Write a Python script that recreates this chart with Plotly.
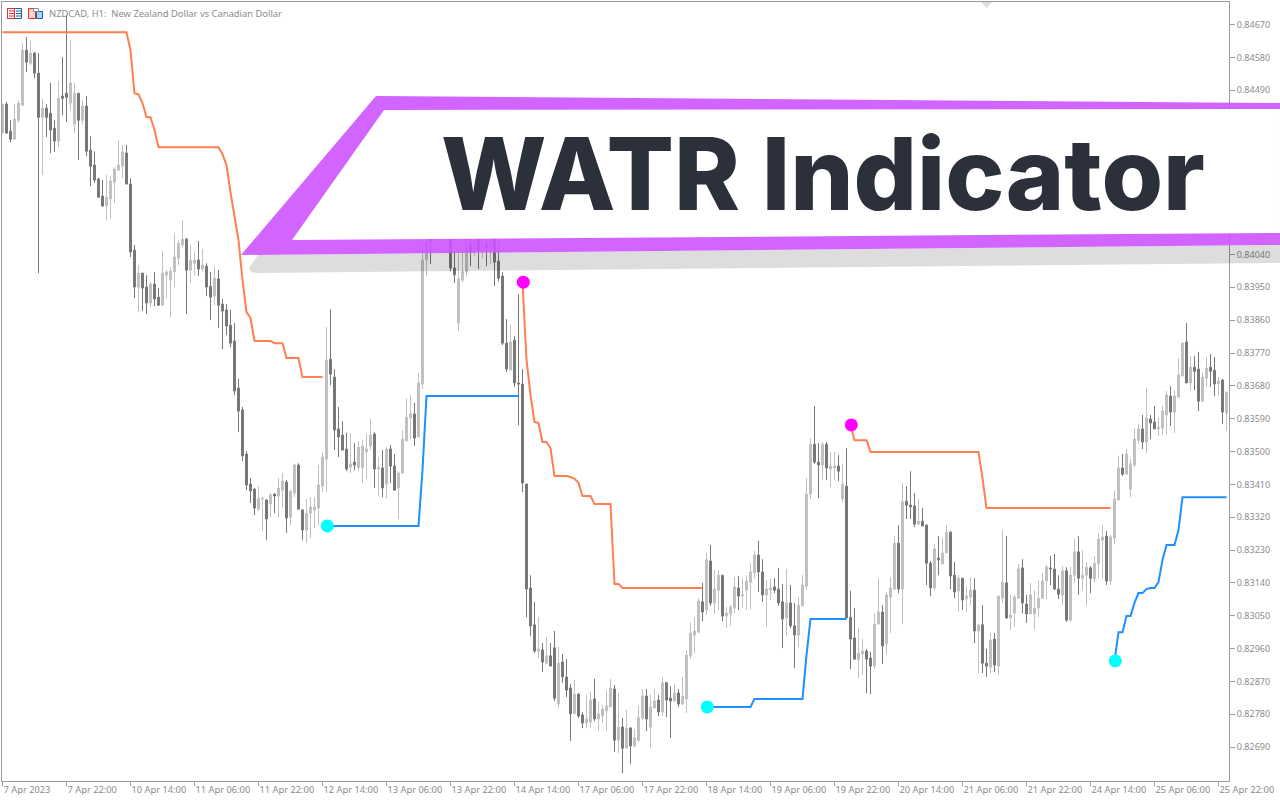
import plotly.graph_objects as go

# prices are stored in points (1 point = 0.00001)
highs_pts = [
84452,84458,84408,84452,84463,84619,84636,84625,84595,84592,
84466,84452,84510,84408,84515,84581,84696,84627,84510,84482,
84463,84474,84364,84323,84249,84244,84258,84255,84279,84353,
84340,84340,84249,84066,84011,83989,83983,83964,83992,83948,
84049,83997,84005,84096,84079,84134,84085,84066,84049,84077,
84055,84016,83992,84008,83997,83918,83904,83888,83852,83699,
83622,83501,83427,83400,83405,83375,83370,83386,83386,83427,
83441,83422,83394,83466,83468,83342,83370,83375,83375,83463,
83499,83841,83890,83726,83622,83583,83551,83551,83523,83529,
83531,83548,83589,83553,83485,83504,83512,83518,83493,83444,
83559,83646,83655,83633,83715,84063,84093,84090,84120,84129,
84118,84112,84101,84047,84047,84047,84085,84085,84085,84085,
84085,84085,84085,84082,84074,83992,83863,83846,83816,83931,
83726,83411,83161,83088,83046,82975,82992,82975,83008,82964,
82945,82931,82863,82874,82838,82786,82833,82841,82877,82814,
82805,82846,82877,82860,82838,82770,82792,82745,82740,82803,
82849,82849,82833,82849,82833,82882,82868,82857,82863,82849,
82882,82956,83030,83046,83098,83140,83222,83244,83175,83175,
83161,83074,83079,83156,83159,83153,83161,83194,83227,83255,
83205,83148,83151,83153,83181,83137,83178,83134,83085,83101,
83161,83427,83537,83625,83523,83526,83526,83499,83499,83490,
83466,83509,83118,83071,83016,82986,82959,82951,83057,83153,
83079,83115,83156,83268,83298,83414,83405,83446,83386,83370,
83345,83301,83200,83246,83268,83263,83298,83282,83197,83161,
83153,83131,83156,83153,83027,83079,82959,83003,83003,83104,
83285,83268,83107,83107,83192,83205,83107,83140,83120,83148,
83167,83189,83214,83219,83161,83186,83183,83183,83260,83268,
83230,83197,83186,83214,83277,83298,83282,83271,83392,83488,
83493,83507,83479,83564,83575,83600,83674,83600,83625,83594,
83625,83666,83679,83668,83756,83800,83852,83762,83762,83773,
83718,83759,83767,83759,83704,83699,83663]

lows_pts = [
84373,84370,84348,84356,84403,84447,84540,84559,84523,83989,
84258,84362,84318,84321,84334,84422,84403,84436,84373,84299,
84397,84310,84227,84236,84197,84170,84134,84140,84181,84271,
84249,84233,84033,83920,83882,83885,83877,83896,83899,83901,
83901,83920,83868,83951,84011,84057,83877,83962,83983,83981,
83994,83926,83860,83901,83838,83781,83819,83786,83655,83553,
83474,83394,83359,83326,83337,83282,83257,83320,83331,83320,
83345,83277,83298,83375,83342,83257,83249,83263,83290,83298,
83389,83389,83682,83504,83485,83504,83446,83441,83449,83446,
83414,83425,83504,83400,83378,83375,83372,83414,83394,83315,
83441,83529,83534,83515,83540,83671,83981,84014,84101,84107,
84101,84093,83994,83962,83830,83964,83981,84008,84036,84000,
84030,84008,84014,83953,83967,83792,83718,83723,83677,83572,
83389,83046,82994,82948,82934,82896,82918,82912,82816,82797,
82866,82827,82707,82778,82770,82742,82742,82742,82761,82734,
82756,82734,82800,82677,82674,82619,82685,82644,82690,82704,
82764,82734,82687,82797,82775,82775,82772,82715,82814,82800,
82805,82783,82931,82948,83003,83035,83052,83077,83055,83066,
83035,83016,83022,83057,83066,83071,83066,83068,83153,83115,
83088,83019,83093,83112,83077,82961,82994,83016,82907,82964,
83077,83120,83370,83466,83372,83422,83422,83403,83422,83419,
83362,83044,82904,82931,82879,82887,82838,82835,82904,83027,
82918,82945,83003,83120,83112,83027,83315,83315,83293,83301,
83296,83134,83104,83118,83161,83192,83222,83123,83098,83060,
83066,83060,83079,82975,82893,82893,82882,82893,82896,82887,
83085,83041,83011,83019,83096,83057,83030,83055,83011,83046,
83096,83096,83134,83120,83096,83079,83033,83033,83140,83107,
83120,83077,83112,83140,83153,83153,83134,83134,83246,83367,
83433,83438,83375,83457,83520,83507,83496,83534,83562,83542,
83545,83548,83570,83551,83649,83707,83688,83668,83668,83611,
83636,83677,83677,83652,83652,83575,83556]

opens_pts = [
84373,84452,84378,84356,84408,84449,84600,84564,84592,84537,
84416,84441,84427,84386,84351,84474,84482,84455,84397,84482,
84408,84447,84326,84285,84247,84200,84173,84192,84238,84271,
84282,84318,84233,84052,83951,83989,83951,83907,83959,83923,
83901,83983,83970,83992,84030,84066,84082,83997,84016,84025,
84000,84008,83953,83926,83973,83904,83888,83846,83803,83674,
83614,83493,83411,83397,83342,83370,83367,83356,83383,83378,
83394,83416,83320,83386,83463,83340,83285,83331,83340,83345,
83405,83479,83753,83704,83562,83545,83507,83457,83471,83457,
83455,83499,83515,83548,83452,83455,83411,83507,83460,83400,
83441,83529,83592,83603,83540,83685,84025,84085,84085,84101,
84112,84104,84085,84003,83852,83970,83992,84066,84047,84082,
84052,84068,84057,84082,84022,83981,83797,83723,83805,83688,
83685,83411,83126,83025,82953,82956,82920,82940,82962,82808,
82923,82882,82852,82783,82835,82778,82756,82759,82822,82767,
82775,82789,82800,82849,82709,82745,82687,82742,82693,82709,
82770,82830,82745,82797,82819,82786,82866,82824,82816,82838,
82808,82822,82940,82997,83005,83088,83066,83200,83085,83120,
83161,83049,83055,83071,83126,83104,83120,83142,83167,83216,
83170,83107,83120,83129,83123,83088,83044,83085,83022,82997,
83077,83131,83383,83520,83471,83463,83520,83452,83455,83460,
83370,83405,83046,82989,82929,82945,82953,82934,82912,83027,
83060,82973,83101,83123,83249,83123,83364,83353,83351,83301,
83309,83298,83194,83126,83208,83192,83222,83279,83161,83118,
83153,83096,83101,83120,83008,83025,82920,82909,82986,82912,
83098,83140,83044,83057,83098,83181,83082,83055,83055,83071,
83098,83145,83181,83178,83123,83107,83173,83038,83161,83225,
83153,83161,83181,83151,83192,83257,83268,83145,83263,83367,
83455,83438,83397,83463,83531,83562,83526,83589,83581,83562,
83564,83600,83652,83608,83649,83707,83800,83688,83731,83726,
83638,83701,83731,83723,83685,83696,83605]

closes_pts = [
84452,84373,84356,84411,84455,84600,84567,84592,84537,84416,
84441,84416,84381,84351,84468,84468,84471,84510,84482,84408,
84447,84323,84282,84244,84197,84173,84197,84241,84274,84285,
84321,84233,84047,83951,83989,83948,83907,83959,83918,83901,
83989,83992,83994,84033,84071,84082,83997,84025,84025,84000,
84011,83951,83923,83975,83901,83885,83844,83797,83666,83611,
83488,83408,83392,83345,83372,83372,83315,83381,83378,83400,
83419,83318,83392,83463,83342,83285,83331,83348,83348,83408,
83485,83751,83712,83559,83540,83504,83452,83466,83463,83512,
83515,83507,83545,83452,83457,83400,83507,83460,83394,83441,
83534,83594,83603,83537,83688,84025,84077,84077,84101,84118,
84104,84096,84003,83984,83973,83994,84066,84047,84074,84052,
84071,84060,84071,84019,83975,83797,83726,83800,83688,83685,
83414,83123,83022,82953,82959,82923,82940,82912,82824,82920,
82882,82846,82781,82835,82775,82756,82767,82819,82767,82781,
82794,82803,82852,82709,82745,82687,82742,82693,82715,82770,
82830,82767,82800,82816,82786,82866,82819,82816,82838,82808,
82830,82942,83003,83008,83090,83060,83203,83085,83123,83161,
83049,83057,83074,83129,83104,83107,83145,83170,83216,83170,
83107,83123,83126,83120,83085,83041,83085,83022,82997,83079,
83134,83383,83520,83471,83463,83520,83455,83460,83460,83446,
83411,83044,82986,82931,82948,82953,82931,82912,83027,83060,
82967,83107,83126,83249,83123,83362,83353,83348,83301,83309,
83296,83194,83126,83233,83203,83222,83279,83159,83115,83153,
83093,83104,83120,83008,83025,82920,82912,82983,82915,83104,
83142,83044,83052,83101,83178,83085,83055,83107,83071,83098,
83145,83183,83178,83123,83109,83173,83038,83161,83225,83153,
83161,83183,83153,83194,83260,83266,83145,83266,83370,83455,
83438,83493,83466,83534,83562,83526,83592,83578,83562,83567,
83611,83655,83608,83652,83710,83797,83688,83731,83720,83638,
83704,83729,83720,83685,83693,83608,83663]

# WATR stop lines: first bar of each run, then its values in points
sell_run_1_start = 0
sell_run_1 = [84649]*32 + [84600,84482,84479,84455,84416,84416,84381] + [84334]*16 + [
    84315,84285,84211,84140,84079,83970,83882,83866] + [83803]*5 + [83797]*3 + [83756]*4 + [83704]*6
sell_run_2_start = 130
sell_run_2 = [83964,83751,83655,83581,83578,83526,83526,83509] + [83433]*4 + [83430,83425,83414] + [83378]*3 + [83356]*5 + [83137,83137] + [83126]*21
sell_run_3_start = 212
sell_run_3 = [83573] + [83531]*4 + [83499]*28 + [83427] + [83345]*32
buy_run_1_start = 81
buy_run_1 = [83296]*24 + [83449] + [83652]*24
buy_run_2_start = 176
buy_run_2 = [82800]*12 + [82822]*13 + [82942] + [83041]*10
buy_run_3_start = 278
buy_run_3 = [82926,83005,83005,83049,83049,83085,83112,83112,83123,83126,83126,83142,83203] + [83244]*3 + [83285] + [83375]*12

x_tick_labels = ["7 Apr 2023","7 Apr 22:00","10 Apr 14:00","11 Apr 06:00","11 Apr 22:00","12 Apr 14:00",
                 "13 Apr 06:00","13 Apr 22:00","14 Apr 14:00","17 Apr 06:00","17 Apr 22:00","18 Apr 14:00",
                 "19 Apr 06:00","19 Apr 22:00","20 Apr 14:00","21 Apr 06:00","21 Apr 22:00","24 Apr 14:00",
                 "25 Apr 06:00","25 Apr 22:00"]
y_tick_labels = ["0.84670","0.84580","0.84490","0.84040","0.83950","0.83860","0.83770","0.83680","0.83590",
                 "0.83500","0.83410","0.83320","0.83230","0.83140","0.83050","0.82960","0.82870","0.82780","0.82690"]

assert len(highs_pts)==len(lows_pts)==len(opens_pts)==len(closes_pts)==307

W, H = 1280, 800
L, R, T, B = 2, 51, 2, 19
PW, PH = W-L-R, H-T-B
GREY = "#9a9aa0"; TXT = "#8c8c8c"; FONT = "Noto Sans"

def p(v):
    return [a/1e5 for a in v]
def px(x): return (x-L)/PW
def py(y): return 1-(y-T)/PH
def poly(pts, close=True):
    return "M" + " L".join(f"{px(a):.5f},{py(b):.5f}" for a,b in pts) + (" Z" if close else "")
def rect(x0,y0,x1,y1,fill,line=None,lw=1):
    return dict(type="rect",xref="paper",yref="paper",x0=px(x0),x1=px(x1),y0=py(y0),y1=py(y1),
                fillcolor=fill,line=dict(color=line or fill,width=lw if line else 0),layer="above")
def hline(x0,x1,y,c):
    return dict(type="line",xref="paper",yref="paper",x0=px(x0),x1=px(x1),y0=py(y),y1=py(y),
                line=dict(color=c,width=1),layer="above")

bars = list(range(307))
fig = go.Figure()
fig.add_trace(go.Candlestick(x=bars, open=p(opens_pts), high=p(highs_pts), low=p(lows_pts), close=p(closes_pts),
    increasing=dict(line=dict(color="#c0c0c0",width=1),fillcolor="#c0c0c0"),
    decreasing=dict(line=dict(color="#777777",width=1),fillcolor="#777777"),
    whiskerwidth=0, showlegend=False, hoverinfo="skip"))
for start,vals,col in [(sell_run_1_start,sell_run_1,"#FF7F50"),(sell_run_2_start,sell_run_2,"#FF7F50"),(sell_run_3_start,sell_run_3,"#FF7F50"),
                       (buy_run_1_start,buy_run_1,"#1E90FF"),(buy_run_2_start,buy_run_2,"#1E90FF"),(buy_run_3_start,buy_run_3,"#1E90FF")]:
    fig.add_trace(go.Scatter(x=list(range(start,start+len(vals))),y=p(vals),mode="lines",
                             line=dict(color=col,width=2),showlegend=False,hoverinfo="skip"))
fig.add_trace(go.Scatter(x=[sell_run_2_start+0.2,sell_run_3_start+0.2],y=p([sell_run_2[0],sell_run_3[0]]),mode="markers",
                         marker=dict(color="#FF00FF",size=13),showlegend=False,hoverinfo="skip"))
fig.add_trace(go.Scatter(x=[buy_run_1_start+0.2,buy_run_2_start+0.2,buy_run_3_start+0.2],y=p([buy_run_1[0],buy_run_2[0],buy_run_3[0]]),mode="markers",
                         marker=dict(color="#00FFFF",size=13),showlegend=False,hoverinfo="skip"))

shapes = [
    dict(type="path",xref="paper",yref="paper",path=poly([(258,255),(1280,245),(1280,263),(256,273),(251,272),(249,268)]),
         fillcolor="rgba(0,0,0,0.135)",line=dict(width=0),layer="above"),
    dict(type="path",xref="paper",yref="paper",path=poly([(241,255),(376,96),(1280,103),(1280,245)]),
         fillcolor="rgba(205,83,255,0.9)",line=dict(width=0),layer="above"),
    dict(type="path",xref="paper",yref="paper",path=poly([(292,240),(384,110),(1280,109),(1280,233)]),
         fillcolor="#ffffff",line=dict(width=0),layer="above"),
    dict(type="path",xref="paper",yref="paper",path=poly([(981,2),(992,2),(986.5,8)]),
         fillcolor="#dcdcdc",line=dict(width=0),layer="above"),
    rect(7.5,8.5,21.5,18.5,"#ffffff","#1560a8"),
    rect(7.5,8.5,14.5,18.5,"#ffffff","#e03030"),
    hline(9,14,11,"#e03030"),hline(9,14,13.5,"#e03030"),hline(9,14,16,"#e03030"),
    hline(16,21,11,"#1560a8"),hline(16,21,13.5,"#1560a8"),hline(16,21,16,"#1560a8"),
    rect(28.5,8.5,35.5,18.5,"#fbd5cc","#e03030"),
    rect(36.5,11.5,42.5,18.5,"#a8d4f5","#1560a8"),
    rect(33.5,8.5,38.5,11.5,"#ffffff","#8c8c8c"),
]

fig.update_layout(
    width=W,height=H,margin=dict(l=L,r=R,t=T,b=B,pad=0,autoexpand=False),paper_bgcolor="white",plot_bgcolor="white",
    showlegend=False,shapes=shapes,
    font=dict(family=FONT,size=9,color=TXT),
    xaxis=dict(range=[-0.125,306.625],tickmode="array",tickvals=bars[::16],ticktext=x_tick_labels,tickangle=0,automargin=False,
               ticks="outside",ticklen=4,tickcolor=GREY,tickwidth=1,showgrid=False,zeroline=False,
               showline=True,linecolor=GREY,linewidth=1,mirror=True,rangeslider=dict(visible=False),
               ticklabelposition="outside right",tickfont=dict(family=FONT,size=9.3,color=TXT),fixedrange=True),
    yaxis=dict(range=[0.82597,0.84732],side="right",tickmode="array",tickvals=[float(s) for s in y_tick_labels],automargin=False,
               ticktext=y_tick_labels,ticks="outside",ticklen=5,tickcolor=GREY,tickwidth=1,showgrid=False,zeroline=False,
               showline=True,linecolor=GREY,linewidth=1,mirror=True,tickfont=dict(family=FONT,size=9,color=TXT),fixedrange=True),
    annotations=[
        dict(xref="paper",yref="paper",x=px(46.5),y=py(13.5),text="NZDCAD, H1:  New Zealand Dollar vs Canadian Dollar",
             showarrow=False,xanchor="left",yanchor="middle",font=dict(family=FONT,size=9.4,color=TXT)),
        dict(xref="paper",yref="paper",x=px(823),y=py(174),text="WATR Indicator",showarrow=False,
             xanchor="center",yanchor="middle",font=dict(family="Inter",weight=800,size=99.7,color="#2B303A")),
    ],
)
fig.write_html("out.html",config=dict(displayModeBar=False),post_script="document.body.style.margin='0';")
